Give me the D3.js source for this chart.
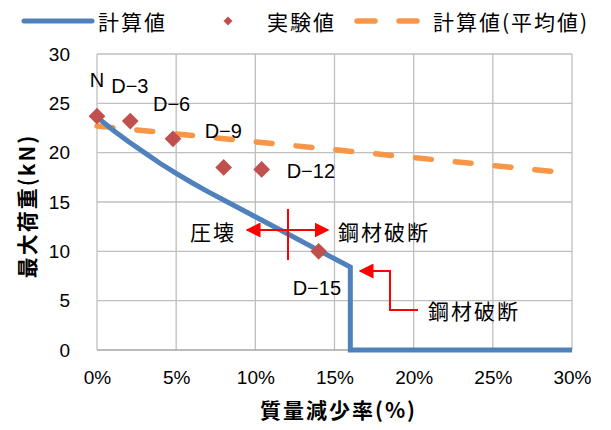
<!DOCTYPE html>
<html><head><meta charset="utf-8">
<script src="https://cdn.jsdelivr.net/npm/d3@7"></script>
<style>
body{margin:0;background:#fff;}
svg{display:block;}
</style></head>
<body>
<svg id="c" width="611" height="430"></svg>
<script>
// ---- data ----
const xTicks = [0, 5, 10, 15, 20, 25, 30];
const yTicks = [0, 5, 10, 15, 20, 25, 30];
const calcX = [0, 1, 2, 3, 4, 5, 6, 7, 8, 10, 12, 14, 16, 16, 30];
const calcY = [23.6, 22.3, 21.1, 20.0, 18.9, 17.9, 16.95, 16.05, 15.2, 13.5, 11.8, 10.1, 8.4, 0, 0];
const avgX = [0, 30];
const avgY = [22.7, 17.9];
const expX = [0, 2.1, 4.8, 8.0, 10.4, 14.0];
const expY = [23.7, 23.2, 21.4, 18.5, 18.3, 10.0];
const expLabels = ["N", "D\u22123", "D\u22126", "D\u22129", "D\u221212", "D\u221215"];
const legendLabels = ["計算値", "実験値", "計算値(平均値)"];
const xTitle = "質量減少率(%)";
const yTitle = "最大荷重(kN)";

const svg = d3.select("#c");
const x = d3.scaleLinear().domain([0, 30]).range([97, 572]);
const y = d3.scaleLinear().domain([0, 30]).range([350, 54]);
const numFont = "'Liberation Sans', Arial, sans-serif";
const jpFont = "'Noto Sans CJK JP', sans-serif";
const blue = "#4f81bd", orange = "#f79646", red = "#c0504d";

// grid
const g = svg.append("g");
g.selectAll(".vx").data(xTicks).join("line")
  .attr("x1", d => x(d)).attr("x2", d => x(d)).attr("y1", y(0)).attr("y2", y(30))
  .attr("stroke", "#bfbfbf").attr("stroke-width", 1.3);
g.selectAll(".hy").data(yTicks).join("line")
  .attr("y1", d => y(d)).attr("y2", d => y(d)).attr("x1", x(0)).attr("x2", x(30))
  .attr("stroke", d => d === 0 ? "#a6a6a6" : "#bfbfbf").attr("stroke-width", 1.3);

// axes labels via d3 axes
const yAxis = svg.append("g").attr("transform", `translate(${x(0)},0)`)
  .call(d3.axisLeft(y).tickValues(yTicks).tickSize(0).tickPadding(27));
const xAxis = svg.append("g").attr("transform", `translate(0,${y(0)})`)
  .call(d3.axisBottom(x).tickValues(xTicks).tickSize(0).tickPadding(21).tickFormat(d => d + "%"));
[yAxis, xAxis].forEach(a => {
  a.select(".domain").remove();
  a.selectAll("text").attr("font-family", numFont).attr("font-size", 19).attr("fill", "#000");
});

// axis titles
svg.append("text").attr("x", (x(0) + x(30)) / 2 + 4).attr("y", 418).attr("text-anchor", "middle")
  .attr("font-family", jpFont).attr("font-weight", "bold").attr("font-size", 21)
  .attr("letter-spacing", 2).text(xTitle);
svg.append("text").attr("transform", `translate(35,${(y(0) + y(30)) / 2 + 4}) rotate(-90)`)
  .attr("text-anchor", "middle").attr("font-family", jpFont).attr("font-weight", "bold")
  .attr("font-size", 21).attr("letter-spacing", 2).text(yTitle);

// average line (dashed)
const avgData = avgX.map((v, i) => [v, avgY[i]]);
svg.append("path").datum(avgData)
  .attr("d", d3.line().x(d => x(d[0])).y(d => y(d[1])))
  .attr("fill", "none").attr("stroke", orange).attr("stroke-width", 5.5)
  .attr("stroke-linecap", "round").attr("stroke-dasharray", "16,24");

// calc line
const calcData = calcX.map((v, i) => [v, calcY[i]]);
svg.append("path").datum(calcData)
  .attr("d", d3.line().x(d => x(d[0])).y(d => y(d[1])).curve(d3.curveLinear))
  .attr("fill", "none").attr("stroke", blue).attr("stroke-width", 5)
  .attr("stroke-linejoin", "miter");

// experimental diamonds
const expData = expX.map((v, i) => [v, expY[i], expLabels[i]]);
svg.selectAll(".dm").data(expData).join("path")
  .attr("d", d3.symbol().type(d3.symbolSquare).size(140))
  .attr("transform", d => `translate(${x(d[0])},${y(d[1])}) rotate(45)`)
  .attr("fill", red);

// point labels
const labOff = [[0, -36], [-19, -35], [-20, -35], [-19, -36], [25, 2], [-26, 37]];
svg.selectAll(".pl").data(expData).join("text")
  .attr("x", (d, i) => x(d[0]) + labOff[i][0])
  .attr("y", (d, i) => y(d[1]) + labOff[i][1])
  .attr("dominant-baseline", "central")
  .attr("text-anchor", (d, i) => i === 0 ? "middle" : "start")
  .attr("font-family", numFont).attr("font-size", 20).attr("fill", "#000")
  .text(d => d[2]);

// annotations (red arrows)
const defs = svg.append("defs");
defs.append("marker").attr("id", "ah").attr("viewBox", "0 0 10 10").attr("refX", 9).attr("refY", 5)
  .attr("markerWidth", 7.5).attr("markerHeight", 7.5).attr("markerUnits", "strokeWidth").attr("orient", "auto-start-reverse")
  .append("path").attr("d", "M0,0 L10,5 L0,10 Z").attr("fill", "#ff0000");
const ann = svg.append("g").attr("stroke", "#ff0000").attr("stroke-width", 2).attr("fill", "none");
ann.append("line").attr("x1", 247).attr("x2", 328).attr("y1", 230).attr("y2", 230)
  .attr("marker-start", "url(#ah)").attr("marker-end", "url(#ah)");
ann.append("line").attr("x1", 288).attr("x2", 288).attr("y1", 209).attr("y2", 260);
ann.append("path").attr("d", "M418,310 L390,310 L390,271 L360,271").attr("marker-end", "url(#ah)");
const annText = svg.append("g").attr("font-family", jpFont).attr("font-size", 21).attr("fill", "#000")
  .attr("letter-spacing", 2).attr("dominant-baseline", "central");
annText.append("text").attr("x", 190).attr("y", 231).text("圧壊");
annText.append("text").attr("x", 338).attr("y", 231).text("鋼材破断");
annText.append("text").attr("x", 428).attr("y", 310).text("鋼材破断");

// legend
const lg = svg.append("g").attr("font-family", jpFont).attr("font-size", 21).attr("fill", "#000")
  .attr("letter-spacing", 2);
lg.append("line").attr("x1", 24).attr("x2", 92).attr("y1", 21).attr("y2", 21)
  .attr("stroke", blue).attr("stroke-width", 5).attr("stroke-linecap", "round");
lg.append("text").attr("x", 98).attr("y", 21).attr("dominant-baseline", "central").text(legendLabels[0]);
lg.append("path").attr("d", d3.symbol().type(d3.symbolSquare).size(40))
  .attr("transform", "translate(228,21) rotate(45)").attr("fill", red);
lg.append("text").attr("x", 267).attr("y", 21).attr("dominant-baseline", "central").text(legendLabels[1]);
lg.append("line").attr("x1", 357).attr("x2", 420).attr("y1", 21).attr("y2", 21)
  .attr("stroke", orange).attr("stroke-width", 5.5).attr("stroke-linecap", "round")
  .attr("stroke-dasharray", "18,24");
lg.append("text").attr("x", 433).attr("y", 21).attr("dominant-baseline", "central").text(legendLabels[2]);
</script>
</body></html>
